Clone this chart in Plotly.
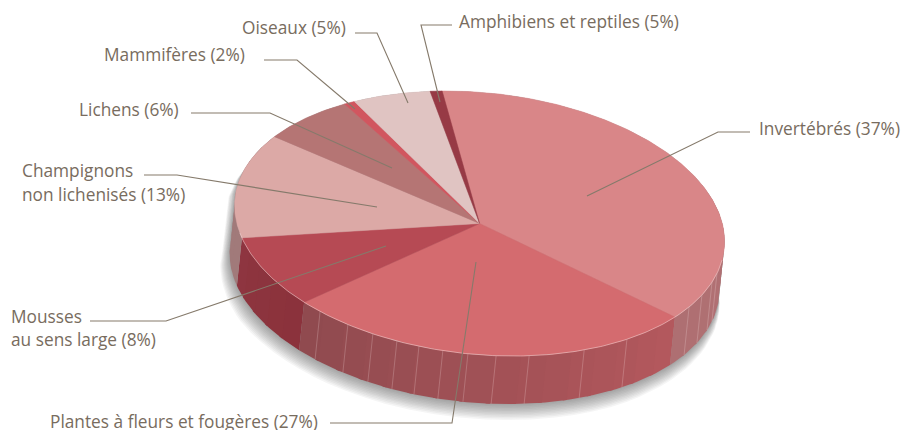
import numpy as np
import plotly.graph_objects as go

# ---- data ----
categories = ["Invertébrés", "Plantes à fleurs et fougères", "Mousses au sens large",
              "Champignons non lichenisés", "Lichens", "Mammifères", "Oiseaux",
              "Amphibiens et reptiles"]
label_percent = [37, 27, 8, 13, 6, 2, 5, 5]
# slice sizes as drawn in the picture (share of the full circle, %)
drawn_share = [37.8, 27.4, 8.4, 13.1, 6.5, 0.75, 5.3, 0.8]
top_colors = ["#D98688", "#D46B6F", "#B64A54", "#DCA9A6", "#B57574", "#D1565F", "#E0C4C2", "#973A45"]
wall_start = ["#B87476", "#B4585D", "#8B323B", "#A17A7A", "#A17A7A", "#A17A7A", "#A17A7A", "#A17A7A"]
wall_end = ["#AE6F72", "#8F4A4F", "#8E3540", "#A17A7A", "#A17A7A", "#A17A7A", "#A17A7A", "#A17A7A"]

# ---- geometry / style ----
W, H = 902, 430
CX, CY = 479.6, 223.5
A, B = 245.9, 130.8
PHI = np.radians(5.87)
OFF = np.array([-5.0, 48.0])
START = -12.1
TXT = "#786C5E"
LINE = "#857A6B"
FONT = "Open Sans"
FS = 17.3


def pt(theta_deg, off=(0, 0)):
    t = np.radians(np.asarray(theta_deg, dtype=float))
    u = A * np.sin(t)
    v = -B * np.cos(t)
    x = CX + u * np.cos(PHI) - v * np.sin(PHI) + off[0]
    y = CY + u * np.sin(PHI) + v * np.cos(PHI) + off[1]
    return x, y


def mix(c1, c2, f):
    a = [int(c1[i:i + 2], 16) for i in (1, 3, 5)]
    b = [int(c2[i:i + 2], 16) for i in (1, 3, 5)]
    return "#%02X%02X%02X" % tuple(round(p + (q - p) * f) for p, q in zip(a, b))


fig = go.Figure()


def poly(xs, ys, fill, line=None, lw=0.6):
    fig.add_trace(go.Scatter(x=list(xs), y=list(ys), mode="lines", fill="toself", fillcolor=fill,
                             line=dict(color=line or fill, width=lw), hoverinfo="skip", showlegend=False))


# soft shadow: stacked translucent hulls, falling down and to the left only
dirs = np.radians(np.arange(0, 360, 3))
hull_t = np.degrees(np.arange(0, 2 * np.pi, 0.02))
tx, ty = pt(hull_t)
bx, by = pt(hull_t, OFF)
hx = np.concatenate([tx, bx])
hy = np.concatenate([ty, by])
for k in np.arange(16, 0, -1.5):
    xs, ys = [], []
    for d in dirs:
        nx, ny = np.cos(d), np.sin(d)
        i = np.argmax(hx * nx + hy * ny)
        reach = k * np.clip(0.2 + 0.9 * ny - 0.3 * nx, 0, 1)
        xs.append(hx[i] + nx * reach)
        ys.append(hy[i] + ny * reach)
    poly(xs, ys, "rgba(50,50,50,0.05)", "rgba(0,0,0,0)", 0)

# side wall
bounds = START + np.concatenate([[0], np.cumsum(drawn_share)]) * 3.6
for i in range(len(drawn_share)):
    a0, a1 = bounds[i], bounds[i + 1]
    n = max(1, int((a1 - a0) / 6))
    edges = np.linspace(a0, a1, n + 1)
    for j in range(n):
        e0, e1 = edges[j], edges[j + 1]
        mid = (e0 + e1) / 2 % 360
        if not (60 < mid < 300):
            continue
        seg = np.linspace(e0, e1 + (1.0 if j < n - 1 else 0), 5)
        x1, y1 = pt(seg)
        x2, y2 = pt(seg[::-1], OFF)
        poly(np.concatenate([x1, x2]), np.concatenate([y1, y2]),
             mix(wall_start[i], wall_end[i], (j + .5) / n), None, 0)

# pale ribs on the side wall
rib_x = [320, 348, 373, 397, 419, 443, 468, 496, 529, 584, 627, 689, 702, 712, 717]
sample = np.linspace(80, 280, 2001)
sx, sy = pt(sample)
for rx in rib_x:
    th = sample[np.argmin(np.abs(sx - rx))]
    x0, y0 = pt(th)
    x1, y1 = pt(th, OFF)
    fig.add_trace(go.Scatter(x=[x0, x1], y=[y0, y1], mode="lines",
                             line=dict(color="rgba(255,235,235,0.22)", width=1),
                             hoverinfo="skip", showlegend=False))

# top of the pie
for i, c in enumerate(top_colors):
    seg = np.linspace(bounds[i], bounds[i + 1], max(3, int(bounds[i + 1] - bounds[i]) * 2))
    x, y = pt(seg)
    poly(np.concatenate([[CX], x, [CX]]), np.concatenate([[CY], y, [CY]]), c, c, 0.5)

# pale edge highlight
seg = np.linspace(95, 255, 200)
x, y = pt(seg)
fig.add_trace(go.Scatter(x=x, y=y, mode="lines", line=dict(color="rgba(255,225,225,0.45)", width=1),
                         hoverinfo="skip", showlegend=False))

# labels: (text line, x, y)
lab = [f"{c} ({p}%)" for c, p in zip(categories, label_percent)]
texts = [
    (lab[0], 757, 128),
    (lab[1], 48, 421),
    ("Mousses", 9, 316),
    ("au sens large (8%)", 9, 339),
    ("Champignons", 20, 170),
    ("non lichenisés (13%)", 20, 194),
    (lab[4], 77, 109),
    (lab[5], 102, 54),
    (lab[6], 240, 27),
    (lab[7], 457, 21),
]
annotations = [dict(x=x, y=y, xref="x", yref="y", text=t, showarrow=False, xanchor="left", yanchor="middle",
                    align="left", font=dict(family=FONT, size=FS, color=TXT)) for t, x, y in texts]

leaders = [
    [(750, 132), (718, 132), (587, 196)],
    [(330, 423), (452, 423), (476, 262)],
    [(90, 321), (166, 321), (386, 246)],
    [(144, 175), (177, 175), (377, 207)],
    [(191, 113), (270, 113), (392, 168)],
    [(264, 60), (297, 60), (355, 109)],
    [(355, 33), (377, 33), (408, 103)],
    [(452, 25), (421, 25), (440, 102)],
]
shapes = [dict(type="path", xref="x", yref="y", layer="above",
               path="M" + " L".join(f"{x},{y}" for x, y in p),
               line=dict(color=LINE, width=1.1)) for p in leaders]

fig.update_layout(
    width=W, height=H, margin=dict(l=0, r=0, t=0, b=0),
    paper_bgcolor="white", plot_bgcolor="white", showlegend=False,
    xaxis=dict(range=[0, W], visible=False, fixedrange=True),
    yaxis=dict(range=[H, 0], visible=False, fixedrange=True),
    annotations=annotations, shapes=shapes,
)
fig.write_html("out.html", config={"displayModeBar": False},
               post_script="document.body.style.margin='0';document.documentElement.style.overflow='hidden';document.body.style.overflow='hidden';")
